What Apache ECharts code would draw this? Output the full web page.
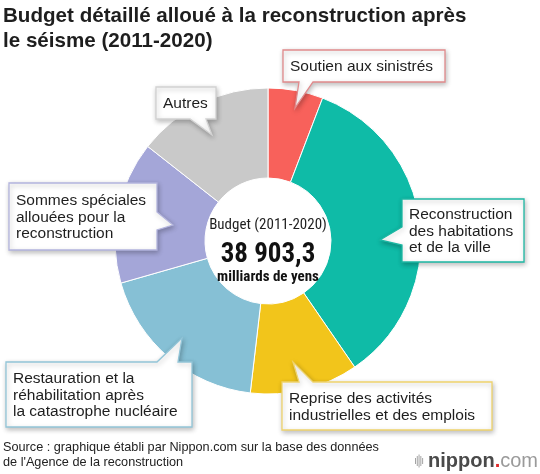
<!DOCTYPE html>
<html>
<head>
<meta charset="utf-8">
<script src="https://cdn.jsdelivr.net/npm/echarts@6/dist/echarts.min.js"></script>
<style>
html,body{margin:0;padding:0;background:#fff;}
#chart{width:540px;height:474px;}
</style>
</head>
<body>
<div id="chart"></div>
<script>
// ---- data ----
const categories = [
  "Soutien aux sinistrés",
  "Reconstruction\ndes habitations\net de la ville",
  "Reprise des activités\nindustrielles et des emplois",
  "Restauration et la\nréhabilitation après\nla catastrophe nucléaire",
  "Sommes spéciales\nallouées pour la\nreconstruction",
  "Autres"
];
const values = [2260, 13460, 4450, 7280, 5850, 5600]; // milliards de yens (estimated)
const totalLabel = "38 903,3";
const centerTitle = "Budget (2011-2020)";
const centerUnit = "milliards de yens";
const titleLines = ["Budget détaillé alloué à la reconstruction après", "le séisme (2011-2020)"];
const sourceLines = ["Source : graphique établi par Nippon.com sur la base des données", "de l'Agence de la reconstruction"];

// ---- styles ----
const sliceColors = ["#f8615b", "#0fbba7", "#f2c51b", "#86c0d5", "#a4a6d8", "#c9c9c9"];
const boxBorders = ["#e18a8c", "#1db8a4", "#efd36c", "#92c5d8", "#b3b4de", "#d2d2d2"];
// callout layout: box [x1,y1,x2,y2], side of pointer, base [a,b], tip [x,y]
const callouts = [
  {box:[283,50,445,82], side:"bottom", base:[299,313], tip:[295,108]},
  {box:[402,199,524,262], side:"left", base:[227,245], tip:[380,240]},
  {box:[282,382,492,430], side:"top", base:[299,313], tip:[293,362]},
  {box:[6,362,192,427], side:"top", base:[157,178], tip:[182,338]},
  {box:[9,183,157,250], side:"right", base:[212,230], tip:[173,225]},
  {box:[156,87,216,119], side:"bottom", base:[190,206], tip:[212,135]}
];

function calloutPoints(c){
  const [x1,y1,x2,y2] = c.box, [a,b] = c.base, t = c.tip;
  if (c.side === "bottom") return [[x1,y1],[x2,y1],[x2,y2],[b,y2],t,[a,y2],[x1,y2]];
  if (c.side === "top") return [[x1,y1],[a,y1],t,[b,y1],[x2,y1],[x2,y2],[x1,y2]];
  if (c.side === "left") return [[x1,y1],[x2,y1],[x2,y2],[x1,y2],[x1,b],t,[x1,a]];
  return [[x1,y1],[x2,y1],[x2,a],t,[x2,b],[x2,y2],[x1,y2]];
}

const FONT = "'Liberation Sans', Arial, Helvetica, sans-serif";
const NARROW = "'Liberation Sans Narrow', 'Roboto Condensed', 'Liberation Sans', sans-serif";

const graphics = [];
// title
titleLines.forEach((t,i) => graphics.push({
  type:"text", x:3, y:16 + i*25,
  style:{text:t, font:"bold 20.6px " + FONT, fill:"#1e1e1e", verticalAlign:"middle"}
}));
// callouts
callouts.forEach((c,i) => {
  graphics.push({
    type:"polygon", z:10,
    shape:{points: calloutPoints(c)},
    style:{fill:"#fff", stroke:boxBorders[i], lineWidth:1.3,
      shadowBlur:5, shadowOffsetX:1, shadowOffsetY:2, shadowColor:"rgba(0,0,0,0.25)"}
  });
  const [x1,y1,x2,y2] = c.box;
  graphics.push({
    type:"text", z:11, x:x1+7, y:(y1+y2)/2 + 1,
    style:{text:categories[i], font:"15.5px " + FONT, fill:"#1e1e1e",
      verticalAlign:"middle", lineHeight:16.6}
  });
});
// center text
graphics.push({type:"text", z:11, x:268, y:225,
  style:{text:centerTitle, font:"15px " + NARROW, fill:"#1e1e1e", align:"center", verticalAlign:"middle"}});
graphics.push({type:"text", z:11, x:268, y:255,
  style:{text:totalLabel, font:"bold 27px " + NARROW, fill:"#111", align:"center", verticalAlign:"middle"}});
graphics.push({type:"text", z:11, x:268, y:277,
  style:{text:centerUnit, font:"bold 15px " + NARROW, fill:"#111", align:"center", verticalAlign:"middle"}});
// source
sourceLines.forEach((t,i) => graphics.push({
  type:"text", x:3, y:447 + i*15.5,
  style:{text:t, font:"12.7px " + FONT, fill:"#222", verticalAlign:"middle"}
}));
// logo
const barH = [6, 10, 13, 10, 6];
barH.forEach((h,k) => graphics.push({
  type:"rect", shape:{x:415 + k*1.8, y:461 - h/2, width:0.9, height:h},
  style:{fill:"#9a9a9a"}
}));
graphics.push({type:"text", x:538, y:461,
  style:{text:"{a|nippon}{b|.}{c|com}", align:"right", verticalAlign:"middle",
    rich:{
      a:{font:"bold 20px " + FONT, fill:"#4a4a4a"},
      b:{font:"bold 20px " + FONT, fill:"#e02a2a"},
      c:{font:"20px " + FONT, fill:"#9a9a9a"}
    }}});

const chart = echarts.init(document.getElementById("chart"), null, {renderer:"canvas"});
chart.setOption({
  animation:false,
  backgroundColor:"#fff",
  color: sliceColors,
  series:[{
    type:"pie",
    center:[268,241],
    radius:[63,153],
    startAngle:90,
    clockwise:true,
    label:{show:false},
    labelLine:{show:false},
    emphasis:{disabled:true},
    itemStyle:{borderColor:"#fff", borderWidth:1},
    data: categories.map((n,i) => ({name:n, value:values[i]}))
  }],
  graphic: graphics
});
</script>
</body>
</html>
